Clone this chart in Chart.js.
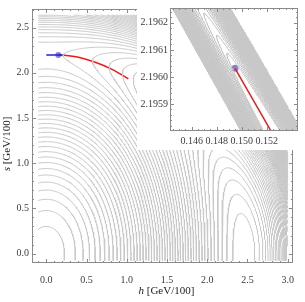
<!DOCTYPE html>
<html lang="en">
<head>
<meta charset="UTF-8">
<title>h-s potential contours</title>
<script src="https://cdn.jsdelivr.net/npm/chart.js@4.4.1/dist/chart.umd.min.js"></script>
<style>
  html, body { margin: 0; padding: 0; background: #fff; }
  #wrap { position: relative; width: 305px; height: 302px; }
  #main { position: absolute; left: 0; top: 0; }
  #inset { position: absolute; left: 137px; top: 0; }
</style>
</head>
<body>
<div id="wrap">
  <canvas id="main" width="305" height="302"></canvas>
  <canvas id="inset" width="168" height="150"></canvas>
</div>
<script>
// vacua in GeV/100
const vevH = 2.46;
const vevS = 2.20;
// shape of the potential, in contour steps
const wallHeight = 68.9;   // quadratic wall around the valley
const wallSkew = 20.4;     // cubic term: steeper outside, flatter inside
const valleyTilt = 21;     // height of the s-vacuum above the h-vacuum
const contourLevels = [0.85, 1.85, 2.85, 3.85, 4.85, 5.85, 6.85, 7.85, 8.85, 9.85,
  10.85, 11.85, 12.85, 13.85, 14.85, 15.85, 16.85, 17.85, 18.85, 19.85,
  20.85, 21.85, 22.85, 23.85, 24.85, 25.85, 26.85, 27.85, 28.85, 29.85,
  30.85, 31.85, 32.85, 33.85, 34.85, 35.85, 36.85, 37.85, 38.85, 39.85,
  40.85, 41.85, 42.85, 43.85, 44.85, 45.85, 46.85, 47.85];

const hTicks = [0, 0.5, 1, 1.5, 2, 2.5, 3];
const sTicks = [0, 0.5, 1, 1.5, 2, 2.5];

// path: blue flat piece, red descent
const blueH = [0.0, 0.22];
const blueS = [2.196, 2.196];
const redH = [0.149, 0.22, 0.40, 0.60, 0.81, 1.02];
const redS = [2.196, 2.193, 2.172, 2.119, 2.041, 1.934];
const startH = [0.149];
const startS = [2.196];

// inset (zoom on the start point)
const insetHTicks = [0.146, 0.148, 0.150, 0.152];
const insetSTicks = [2.1959, 2.1960, 2.1961, 2.1962];
const insetStartH = [0.14946];
const insetStartS = [2.196032];
const insetRedH = [0.14946, 0.15234];
const insetRedS = [2.196032, 2.19580];
const insetSlope = -0.0806;      // ds/dh of the valley
const insetBand = 0.0002;        // half width of the plotted band in s
const insetDrop = 0.06;          // fall of the valley per 0.001 in h
const insetLevels = [0.04, 0.09, 0.15, 0.22, 0.3, 0.38, 0.46, 0.54, 0.62, 0.7,
  0.78, 0.86, 0.94, 1.02, 1.1, 1.18, 1.26, 1.34, 1.42, 1.5, 1.58, 1.66, 1.74,
  1.82, 1.9, 1.98, 2.06, 2.14, 2.22, 2.3, 2.38, 2.46, 2.54, 2.62, 2.7, 2.78];

function potential(h, s) {
  const x = (h / vevH) ** 2, y = (s / vevS) ** 2, d = x + y - 1;
  return wallHeight * d * d + wallSkew * d * d * d + valleyTilt * y * (1 - d);
}

function insetField(h, s) {
  const u = ((s - insetStartS[0]) - insetSlope * (h - insetStartH[0])) / insetBand;
  const t = (h - insetStartH[0]) / 0.001;
  if (Math.abs(u) > 1) return NaN;
  return 3 * u * u - insetDrop * t;
}

// marching squares, segments joined into polylines
function traceContours(f, xmin, xmax, ymin, ymax, nx, ny, levels) {
  const dx = (xmax - xmin) / nx, dy = (ymax - ymin) / ny;
  const vals = new Float64Array((nx + 1) * (ny + 1));
  for (let j = 0; j <= ny; j++)
    for (let i = 0; i <= nx; i++)
      vals[j * (nx + 1) + i] = f(xmin + i * dx, ymin + j * dy);
  const val = (i, j) => vals[j * (nx + 1) + i];
  const lines = [];
  for (const L of levels) {
    const pts = new Map();
    const segs = [];
    const ep = (key, x1, y1, v1, x2, y2, v2) => {
      if (!pts.has(key)) {
        const t = (L - v1) / (v2 - v1);
        pts.set(key, [x1 + t * (x2 - x1), y1 + t * (y2 - y1)]);
      }
      return key;
    };
    for (let j = 0; j < ny; j++) {
      for (let i = 0; i < nx; i++) {
        const v00 = val(i, j), v10 = val(i + 1, j), v11 = val(i + 1, j + 1), v01 = val(i, j + 1);
        if (isNaN(v00) || isNaN(v10) || isNaN(v11) || isNaN(v01)) continue;
        const x0 = xmin + i * dx, x1 = x0 + dx, y0 = ymin + j * dy, y1 = y0 + dy;
        const c = [];
        if ((v00 < L) !== (v10 < L)) c.push(ep('b' + i + '_' + j, x0, y0, v00, x1, y0, v10));
        if ((v10 < L) !== (v11 < L)) c.push(ep('v' + (i + 1) + '_' + j, x1, y0, v10, x1, y1, v11));
        if ((v01 < L) !== (v11 < L)) c.push(ep('b' + i + '_' + (j + 1), x0, y1, v01, x1, y1, v11));
        if ((v00 < L) !== (v01 < L)) c.push(ep('v' + i + '_' + j, x0, y0, v00, x0, y1, v01));
        if (c.length === 2) segs.push(c);
        else if (c.length === 4) {
          const mid = (v00 + v10 + v11 + v01) / 4;
          if ((mid < L) === (v00 < L)) { segs.push([c[0], c[1]]); segs.push([c[2], c[3]]); }
          else { segs.push([c[0], c[3]]); segs.push([c[1], c[2]]); }
        }
      }
    }
    const adj = new Map();
    segs.forEach((sg, k) => sg.forEach(key => {
      if (!adj.has(key)) adj.set(key, []);
      adj.get(key).push(k);
    }));
    const used = new Uint8Array(segs.length);
    const grow = line => {
      let last = line[line.length - 1];
      for (;;) {
        const k = (adj.get(last) || []).find(n => !used[n]);
        if (k === undefined) break;
        used[k] = 1;
        last = segs[k][0] === last ? segs[k][1] : segs[k][0];
        line.push(last);
      }
    };
    segs.forEach((sg, k) => {
      if (used[k]) return;
      used[k] = 1;
      const line = [sg[0], sg[1]];
      grow(line);
      line.reverse();
      grow(line);
      lines.push(line.map(key => pts.get(key)));
    });
  }
  return lines;
}

function toData(lines) {
  const data = [];
  lines.forEach(l => {
    l.forEach(p => data.push({ x: p[0], y: p[1] }));
    data.push({ x: null, y: null });
  });
  return data;
}
const zip = (xs, ys) => xs.map((x, i) => ({ x: x, y: ys[i] }));

const serif = '"Liberation Serif", "DejaVu Serif", serif';
const frameColor = '#8a8a8a';
const labelColor = '#3c3c3c';

const whiteBg = {
  id: 'whiteBg',
  beforeDraw(chart) {
    const ctx = chart.ctx;
    ctx.save();
    ctx.fillStyle = '#fff';
    ctx.fillRect(0, 0, chart.width, chart.height);
    ctx.restore();
  }
};

// Mathematica-style frame with inward ticks
function frameTicks(majorX, minorStepX, majorY, minorStepY) {
  return {
    id: 'frameTicks',
    afterDatasetsDraw(chart) {
      const { ctx, chartArea: a, scales } = chart;
      const xs = scales.x, ys = scales.y;
      ctx.save();
      ctx.strokeStyle = frameColor;
      ctx.lineWidth = 1;
      ctx.strokeRect(Math.round(a.left) + 0.5, Math.round(a.top) + 0.5,
        Math.round(a.right - a.left) - 1, Math.round(a.bottom - a.top) - 1);
      ctx.beginPath();
      const tickX = (v, len) => {
        const px = Math.round(xs.getPixelForValue(v)) + 0.5;
        if (px < a.left || px > a.right) return;
        ctx.moveTo(px, a.bottom); ctx.lineTo(px, a.bottom - len);
        ctx.moveTo(px, a.top); ctx.lineTo(px, a.top + len);
      };
      const tickY = (v, len) => {
        const py = Math.round(ys.getPixelForValue(v)) + 0.5;
        if (py < a.top || py > a.bottom) return;
        ctx.moveTo(a.left, py); ctx.lineTo(a.left + len, py);
        ctx.moveTo(a.right, py); ctx.lineTo(a.right - len, py);
      };
      for (let v = Math.ceil(xs.min / minorStepX) * minorStepX; v <= xs.max; v += minorStepX) tickX(v, 2);
      for (let v = Math.ceil(ys.min / minorStepY) * minorStepY; v <= ys.max; v += minorStepY) tickY(v, 2);
      majorX.forEach(v => tickX(v, 4));
      majorY.forEach(v => tickY(v, 4));
      ctx.stroke();
      ctx.restore();
    }
  };
}

const axisTitles = {
  id: 'axisTitles',
  afterDraw(chart) {
    const ctx = chart.ctx, a = chart.chartArea;
    const drawTitle = (sym) => {
      ctx.font = 'italic 11px ' + serif;
      const w1 = ctx.measureText(sym).width;
      ctx.font = '11px ' + serif;
      const rest = ' [GeV/100]';
      const w2 = ctx.measureText(rest).width;
      const x0 = -(w1 + w2) / 2;
      ctx.font = 'italic 11px ' + serif;
      ctx.fillText(sym, x0, 0);
      ctx.font = '11px ' + serif;
      ctx.fillText(rest, x0 + w1, 0);
    };
    ctx.save();
    ctx.fillStyle = '#222';
    ctx.textBaseline = 'middle';
    ctx.textAlign = 'left';
    ctx.translate((a.left + a.right) / 2 + 4, 291);
    drawTitle('h');
    ctx.restore();
    ctx.save();
    ctx.fillStyle = '#222';
    ctx.textBaseline = 'middle';
    ctx.textAlign = 'left';
    ctx.translate(7, (a.top + a.bottom) / 2 + 8);
    ctx.rotate(-Math.PI / 2);
    drawTitle('s');
    ctx.restore();
  }
};

const mainLines = traceContours(potential, -0.1, 3.0, -0.08, 2.64, 260, 230, contourLevels);

new Chart(document.getElementById('main'), {
  type: 'scatter',
  data: {
    datasets: [
      { data: toData(mainLines), showLine: true, borderColor: '#c8c8c8', borderWidth: 1,
        pointRadius: 0, spanGaps: false },
      { data: zip(blueH, blueS), showLine: true, borderColor: '#1f1fe0', borderWidth: 1.5, pointRadius: 0 },
      { data: zip(redH, redS), showLine: true, borderColor: '#f01818', borderWidth: 1.5, pointRadius: 0,
        cubicInterpolationMode: 'monotone' },
      { data: zip(startH, startS), pointRadius: 3, pointBackgroundColor: '#8484d6',
        pointBorderWidth: 0 }
    ]
  },
  options: {
    responsive: false,
    animation: false,
    events: [],
    layout: { padding: { left: 0, right: 6, top: 1, bottom: 0 } },
    plugins: { legend: { display: false }, tooltip: { enabled: false } },
    scales: {
      x: {
        type: 'linear', min: -0.178, max: 3.065,
        afterFit: s => { s.height = 39; },
        afterBuildTicks: s => { s.ticks = hTicks.map(v => ({ value: v })); },
        grid: { display: false, drawTicks: false },
        border: { display: false },
        ticks: { padding: 11, color: labelColor, font: { family: serif, size: 10 },
          maxRotation: 0, callback: v => v.toFixed(1) }
      },
      y: {
        type: 'linear', min: -0.104, max: 2.706,
        afterFit: s => { s.width = 32; },
        afterBuildTicks: s => { s.ticks = sTicks.map(v => ({ value: v })); },
        grid: { display: false, drawTicks: false },
        border: { display: false },
        ticks: { padding: 3, color: labelColor, font: { family: serif, size: 10 },
          callback: v => v.toFixed(1) }
      }
    }
  },
  plugins: [whiteBg, frameTicks(hTicks, 0.1, sTicks, 0.1), axisTitles]
});

const insetLines = traceContours(insetField, 0.14426, 0.1545, 2.19580, 2.196255, 200, 200, insetLevels);

new Chart(document.getElementById('inset'), {
  type: 'scatter',
  data: {
    datasets: [
      { data: toData(insetLines), showLine: true, borderColor: '#c8c8c8', borderWidth: 1,
        pointRadius: 0, spanGaps: false },
      { data: zip(insetRedH, insetRedS), showLine: true, borderColor: '#f01818', borderWidth: 1.5, pointRadius: 0 },
      { data: zip(insetStartH, insetStartS), pointRadius: 3.5, pointBackgroundColor: '#8484d6',
        pointBorderWidth: 0 }
    ]
  },
  options: {
    responsive: false,
    animation: false,
    events: [],
    layout: { padding: { left: 0, right: 7, top: 1, bottom: 0 } },
    plugins: { legend: { display: false }, tooltip: { enabled: false } },
    scales: {
      x: {
        type: 'linear', min: 0.14426, max: 0.1545,
        afterFit: s => { s.height = 19; },
        afterBuildTicks: s => { s.ticks = insetHTicks.map(v => ({ value: v })); },
        grid: { display: false, drawTicks: false },
        border: { display: false },
        ticks: { padding: 4, color: labelColor, font: { family: serif, size: 10 },
          maxRotation: 0, callback: v => v.toFixed(3) }
      },
      y: {
        type: 'linear', min: 2.19580, max: 2.196255,
        afterFit: s => { s.width = 33; },
        afterBuildTicks: s => { s.ticks = insetSTicks.map(v => ({ value: v })); },
        grid: { display: false, drawTicks: false },
        border: { display: false },
        ticks: { padding: 2, color: labelColor, font: { family: serif, size: 10 },
          callback: v => v.toFixed(4) }
      }
    }
  },
  plugins: [whiteBg, frameTicks(insetHTicks, 0.0005, insetSTicks, 0.00002)]
});
</script>
</body>
</html>
